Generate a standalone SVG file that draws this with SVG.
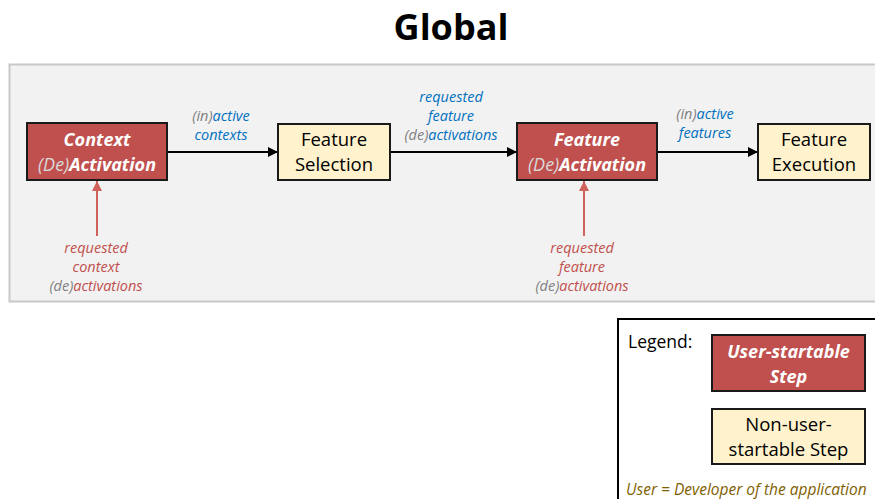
<svg xmlns="http://www.w3.org/2000/svg" width="875" height="499" viewBox="0 0 875 499">
  <defs>
    <marker id="arrow-black" viewBox="0 0 10 10" refX="10" refY="5" markerWidth="10" markerHeight="10" markerUnits="userSpaceOnUse" orient="auto">
      <path d="M0,0 L10,5 L0,10 z" fill="#000"/>
    </marker>
    <marker id="arrow-red" viewBox="0 0 10 10" refX="10" refY="5" markerWidth="10" markerHeight="10" markerUnits="userSpaceOnUse" orient="auto">
      <path d="M0,0 L10,5 L0,10 z" fill="#d0605a"/>
    </marker>
  </defs>
  <style>
    text { font-family: "Open Sans", "Noto Sans", sans-serif; }
    .user { fill: #c0504d; stroke: #1a1a1a; stroke-width: 2; }
    .sys { fill: #fff2cc; stroke: #1a1a1a; stroke-width: 2; }
    .ut { fill: #fff; font-size: 18px; font-weight: bold; font-style: italic; text-anchor: middle; }
    .de { fill: #d9d9d9; font-weight: normal; }
    .st { fill: #000; font-size: 18.5px; text-anchor: middle; }
    .lbl { font-size: 14.5px; font-style: italic; text-anchor: middle; fill: #0070c0; }
    .rlbl { font-size: 14.5px; font-style: italic; text-anchor: middle; fill: #c0504d; }
    .g { fill: #808080; }
    .flow { stroke: #000; stroke-width: 2; fill: none; }
    .req { stroke: #d0605a; stroke-width: 2; fill: none; }
  </style>

  <rect width="875" height="499" fill="#fff"/>

  <text x="451" y="40" text-anchor="middle" font-size="36" font-weight="bold" fill="#000">Global</text>

  <!-- process panel -->
  <rect x="9.5" y="64.5" width="880" height="237" fill="#f2f2f2" stroke="#c8c8c8" stroke-width="2"/>

  <g id="connectors">
    <line class="flow" x1="168" y1="152" x2="278" y2="152" marker-end="url(#arrow-black)"/>
    <line class="flow" x1="391" y1="152" x2="517" y2="152" marker-end="url(#arrow-black)"/>
    <line class="flow" x1="658" y1="152" x2="758" y2="152" marker-end="url(#arrow-black)"/>
    <line class="req" x1="97" y1="236" x2="97" y2="181" marker-end="url(#arrow-red)"/>
    <line class="req" x1="584" y1="236" x2="584" y2="181" marker-end="url(#arrow-red)"/>

    <text class="lbl" x="221" y="121"><tspan class="g">(in)</tspan>active</text>
    <text class="lbl" x="221" y="140">contexts</text>

    <text class="lbl" x="451" y="102">requested</text>
    <text class="lbl" x="451" y="121">feature</text>
    <text class="lbl" x="451" y="140"><tspan class="g">(de)</tspan>activations</text>

    <text class="lbl" x="705" y="119"><tspan class="g">(in)</tspan>active</text>
    <text class="lbl" x="705" y="138">features</text>

    <text class="rlbl" x="96" y="253">requested</text>
    <text class="rlbl" x="96" y="272">context</text>
    <text class="rlbl" x="96" y="291"><tspan class="g">(de)</tspan>activations</text>

    <text class="rlbl" x="582" y="253">requested</text>
    <text class="rlbl" x="582" y="272">feature</text>
    <text class="rlbl" x="582" y="291"><tspan class="g">(de)</tspan>activations</text>
  </g>

  <g id="context-activation">
    <rect class="user" x="27" y="123" width="140" height="57"/>
    <text class="ut" x="97" y="146">Context</text>
    <text class="ut" x="97" y="171"><tspan class="de">(De)</tspan>Activation</text>
  </g>

  <g id="feature-selection">
    <rect class="sys" x="278" y="124" width="112" height="56"/>
    <text class="st" x="334" y="146">Feature</text>
    <text class="st" x="334" y="171">Selection</text>
  </g>

  <g id="feature-activation">
    <rect class="user" x="517" y="123" width="140" height="57"/>
    <text class="ut" x="587" y="146">Feature</text>
    <text class="ut" x="587" y="171"><tspan class="de">(De)</tspan>Activation</text>
  </g>

  <g id="feature-execution">
    <rect class="sys" x="758" y="124" width="112" height="56"/>
    <text class="st" x="814" y="146">Feature</text>
    <text class="st" x="814" y="171">Execution</text>
  </g>

  <g id="legend">
    <rect x="618" y="319" width="270" height="200" fill="#fff" stroke="#000" stroke-width="2"/>
    <text x="628" y="348" font-size="17.5" fill="#000">Legend:</text>
    <rect class="user" x="712" y="335" width="153" height="56"/>
    <text class="ut" x="788.5" y="358">User-startable</text>
    <text class="ut" x="788.5" y="383">Step</text>
    <rect class="sys" x="712" y="409" width="153" height="55"/>
    <text class="st" x="788.5" y="431">Non-user-</text>
    <text class="st" x="788.5" y="456">startable Step</text>
    <text x="626" y="495" font-size="15.5" font-style="italic" fill="#7f6000">User = Developer of the application</text>
  </g>
</svg>
